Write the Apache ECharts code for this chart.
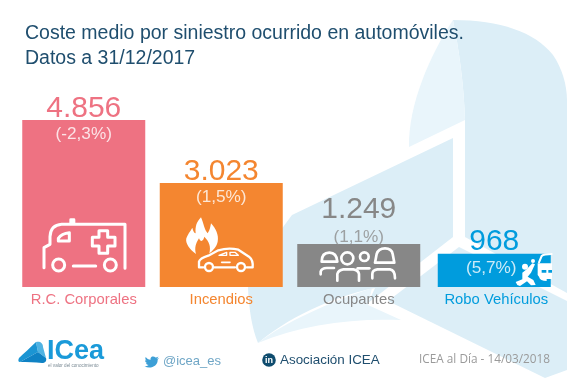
<!DOCTYPE html>
<html><head><meta charset="utf-8">
<script src="https://cdn.jsdelivr.net/npm/echarts@6/dist/echarts.min.js"></script>
<style>html,body{margin:0;padding:0;background:#fff}#c{width:567px;height:378px}</style>
</head><body><div id="c"></div>
<script>
const categories = ['R.C. Corporales', 'Incendios', 'Ocupantes', 'Robo Vehículos'];
const costeMedio = [4856, 3023, 1249, 968];
const variacion = ['(-2,3%)', '(1,5%)', '(1,1%)', '(5,7%)'];
const barColors = ['#ee7282', '#f48630', '#878787', '#009cdd'];
const titleText = 'Coste medio por siniestro ocurrido en automóviles.\nDatos a 31/12/2017';

const FONT = '"Liberation Sans", Arial, sans-serif';
const fmt = v => String(v).replace(/\B(?=(\d{3})+$)/g, '.');
const valueOffset = [[0, 4], [0, 4], [0, -19], [0, 3]];
const pctOffset = [[0, 14], [0, 14], [0, -7], [-3, 15]];
const pctColor = ['#fff', '#fff', '#8c8c8c', '#fff'];

const barItem = i => ({
  value: costeMedio[i],
  itemStyle: { color: barColors[i] },
  label: { color: barColors[i], offset: valueOffset[i] }
});
const pctItem = i => ({
  value: [i, costeMedio[i]],
  label: { formatter: variacion[i], color: pctColor[i], offset: pctOffset[i] }
});
const barLabel = { show: true, position: 'top', distance: 0, fontSize: 30, fontFamily: FONT, formatter: p => fmt(p.value) };
const pctSeries = (name, idx, ids) => ({
  name, type: 'scatter', xAxisIndex: idx, yAxisIndex: idx, symbolSize: 1, silent: true,
  itemStyle: { color: 'rgba(0,0,0,0)' }, z: 15,
  label: { show: true, position: 'inside', fontSize: 17.2, fontFamily: FONT },
  data: ids.map(pctItem)
});

// decoration helpers
const DARK = '#dceef7', LIGHT = '#e9f5fb', W = '#fff';
const bg = (d, fill) => ({ type: 'path', shape: { pathData: d }, style: { fill } });
const sp = (d, lw) => ({ type: 'path', shape: { pathData: d }, style: { fill: 'none', stroke: W, lineWidth: lw, lineCap: 'round', lineJoin: 'round' } });
const fp = (d, col) => ({ type: 'path', shape: { pathData: d }, style: { fill: col || W } });
const circ = (cx, cy, r, lw) => ({ type: 'circle', shape: { cx, cy, r }, style: { fill: 'none', stroke: W, lineWidth: lw } });
const disc = (cx, cy, r, col) => ({ type: 'circle', shape: { cx, cy, r }, style: { fill: col || W } });
const icon = (x, y, children) => ({ type: 'group', x, y, scaleX: 1 / 3, scaleY: 1 / 3, children });
const txt = (x, y, text, size, fill, family, extra) => ({ type: 'text', x, y, z: 20, silent: true,
  style: Object.assign({ text, fontSize: size, fill, fontFamily: family || FONT, verticalAlign: 'middle' }, extra || {}) });
const layer = (name, z, children) => ({
  name, type: 'custom', coordinateSystem: 'none', silent: true, z, data: [0],
  renderItem: () => ({ type: 'group', children })
});

const background = [
  bg('M453,20 C500,20 535,32 553,55 C562,68 567,85 567,100 L567,293 L465,237 L465,120 C464,85 459,50 453,20 Z', DARK),
  bg('M453,20 C430,55 408,105 409,147 L465,120 C464,85 459,50 453,20 Z', LIGHT),
  bg('M453,138 L292,215 C270,245 250,270 248,288 C249,310 252,328 258,343 C285,320 330,297 375,288 L368,303 L453,237 Z', DARK),
  bg('M258,343 C285,322 330,302 372,288 L368,305 L401,320 C350,318 300,325 258,343 Z', LIGHT),
  bg('M459,247 L388,301 L545,378 L567,370 L567,301 Z', DARK)
];

const icons = [
  icon(30, 205, [
    sp('M42,188 V128 L60,118 V95 Q62,60 95,58 H285 V190', 9),
    fp('M118,56 V44 Q118,40 122,40 H132 Q136,40 136,44 V56 Z'),
    sp('M85,108 V100 Q95,85 118,83 V108 Z', 9),
    sp('M207,77 H233 V97 H255 V123 H233 V145 H207 V123 H187 V97 H207 Z', 9),
    circ(86, 180, 18, 9), circ(241, 180, 18, 9),
    sp('M130,183 H197', 9)
  ]),
  icon(175, 205, [
    fp('M78,37 C86,55 88,75 98,85 C105,75 106,65 108,55 C122,70 132,90 128,110 C125,125 115,135 103,145 C108,125 103,110 88,95 C86,105 78,115 72,100 C62,115 58,130 63,147 C45,135 30,115 34,100 C37,90 45,80 52,68 C54,78 58,85 62,85 C60,65 65,50 78,37 Z'),
    sp('M85,187 H72 V170 Q75,160 100,152 L130,136 Q160,127 190,134 L222,155 Q235,165 233,187 H215 M180,187 H118', 7),
    sp('M132,151 L155,142 V151 Z M165,142 H180 L190,151 H165 Z', 4),
    circ(102, 186, 12, 7), circ(198, 186, 12, 7),
    sp('M140,172 H165', 5)
  ]),
  icon(310, 240, [
    sp('M35,65 Q35,38 58,38 Q80,38 82,65 Z', 8),
    circ(112, 55, 18, 8), circ(163, 50, 13, 8),
    sp('M195,68 L200,42 Q205,25 225,25 Q245,25 248,42 L253,68 Z', 8),
    sp('M32,103 V95 Q35,84 50,84 H72', 8),
    sp('M82,122 V102 Q85,90 100,88 H130 Q145,90 147,102 V122', 8),
    sp('M143,85 H178', 8),
    sp('M187,115 V102 Q187,90 202,88 H240 Q255,90 255,115', 8)
  ]),
  icon(285, 180, [
    sp('M762,247 L770,228 Q775,222 800,222', 6),
    fp('M758,250 H801 V297 H785 V303 Q765,303 762,290 L758,285 Z'),
    fp('M770,270 H784 V278 H770 Z M790,270 H801 V278 H790 Z', '#009cdd'),
    fp('M697,315 L692,306 L712,298 L712,278 L725,268 L742,250 L750,253 L738,278 L728,290 L745,300 L752,315 L738,316 L726,304 L705,318 Z'),
    disc(720, 260, 9), disc(744, 243, 6)
  ])
];

const marks = [
  fp('M36,342 C40,341 43,343 43,347 C44,351 45,354 46,358 L38,352 Z', '#4fb3e3'),
  fp('M36,342 L38,352 C32,355 26,359 20,362 C18,362 18,360 19,358 C24,353 30,348 36,342 Z', '#1b95d3'),
  fp('M20,362 C26,359 32,355 38,352 L46,358 C47,361 45,363 42,363 C35,362 27,362 20,362 Z', '#0f82c4'),
  fp('M159,358 C158,358.5 157.5,358.7 156.5,358.8 C157.5,358.2 158.2,357.4 158.5,356.5 C157.6,357 156.6,357.4 155.5,357.6 C154.6,356.6 153.4,356.2 152.2,356.6 C151,357 150.3,358.3 150.6,359.7 C148.5,359.6 146.8,358.6 145.7,357 C145,358.3 145.4,359.8 146.6,360.7 C146,360.7 145.5,360.5 145,360.3 C145,361.7 146,362.8 147.4,363.1 C146.9,363.2 146.4,363.2 145.9,363.1 C146.3,364.2 147.3,365 148.6,365.1 C147.3,366.1 146,366.5 144.5,366.3 C150,369.5 158,366.5 157.7,359.5 C158.2,359.1 158.7,358.6 159,358 Z', '#3d9fd6'),
  disc(269, 360, 6.8, '#0f4c6e')
];

const footerText = [
  txt(47, 352, 'ICea', 27, '#1a9ad9', FONT, { fontWeight: 'bold' }),
  txt(48, 366, 'el valor del conocimiento', 4.6, '#7a8a94'),
  txt(265, 360.5, 'in', 9, '#fff', FONT, { fontWeight: 'bold' }),
  txt(163, 361, '@icea_es', 13, '#6fa6c6'),
  txt(280, 360, 'Asociación ICEA', 13.4, '#1f4e6e'),
  txt(419, 360, 'ICEA al Día - 14/03/2018', 11.8, '#9a9a9a', '"Open Sans", sans-serif')
];

const gridTpl = left => ({ left, width: 550, bottom: 91, height: 172, containLabel: false });
const yAxisTpl = idx => ({ type: 'value', gridIndex: idx, min: 0, max: 5000, show: false });

const chart = echarts.init(document.getElementById('c'), null, { renderer: 'canvas' });
chart.setOption({
  animation: false,
  backgroundColor: '#fff',
  title: {
    text: titleText, left: 20, top: 16,
    textStyle: { fontFamily: FONT, fontSize: 19.5, fontWeight: 'normal', color: '#1f4e6e', lineHeight: 25 }
  },
  grid: [gridTpl(15), gridTpl(13)],
  xAxis: [
    { type: 'category', gridIndex: 0, data: categories,
      axisLine: { show: false }, axisTick: { show: false },
      axisLabel: { margin: 5, fontSize: 14.8, fontFamily: FONT, interval: 0, color: (v, i) => barColors[i] } },
    { type: 'category', gridIndex: 1, data: categories, show: false }
  ],
  yAxis: [yAxisTpl(0), yAxisTpl(1)],
  series: [
    layer('Fondo', -1, background),
    { name: 'Coste medio', type: 'bar', xAxisIndex: 0, yAxisIndex: 0, barWidth: 123, silent: true, z: 2,
      label: barLabel, data: [barItem(0), barItem(1), barItem(2), null] },
    { name: 'Coste medio (Robo)', type: 'bar', xAxisIndex: 1, yAxisIndex: 1, barWidth: 113, silent: true, z: 2,
      label: barLabel, data: [null, null, null, barItem(3)] },
    pctSeries('Variación', 0, [0, 1, 2]),
    pctSeries('Variación (Robo)', 1, [3]),
    layer('Iconos', 10, icons.concat(marks))
  ],
  graphic: { elements: footerText }
});
</script></body></html>
